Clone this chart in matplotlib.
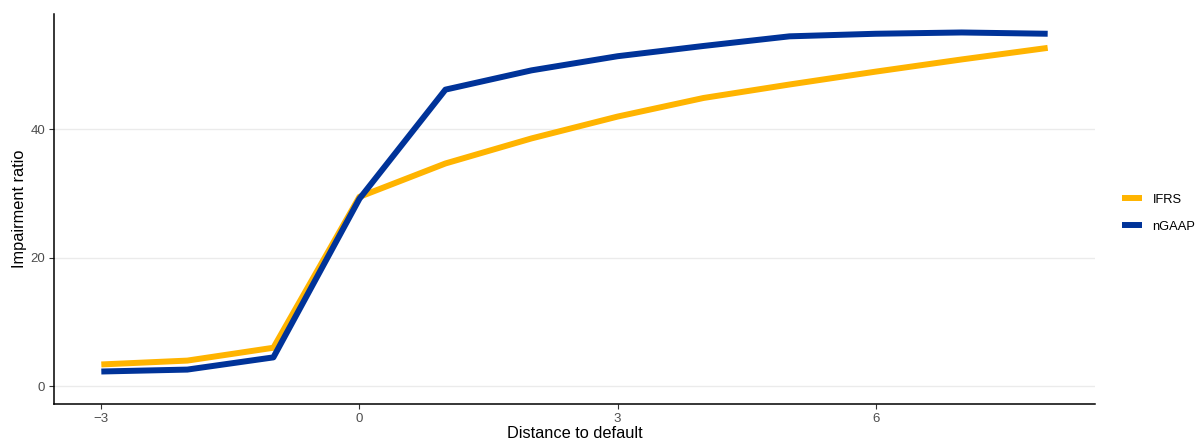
import matplotlib
matplotlib.use("Agg")
import matplotlib.pyplot as plt

plt.rcParams['font.family'] = ['Liberation Sans', 'DejaVu Sans']

distance = [-3, -2, -1, 0, 1, 2, 3, 4, 5, 6, 7, 8]
ifrs = [3.4, 4.0, 6.0, 29.5, 34.7, 38.6, 42.0, 44.9, 47.0, 49.0, 50.9, 52.7]
ngaap = [2.3, 2.6, 4.5, 29.2, 46.2, 49.2, 51.4, 53.0, 54.5, 54.9, 55.1, 54.9]
series_names = ['IFRS', 'nGAAP']
colors = ['#FFB400', '#003399']
xticks = [-3, 0, 3, 6]
yticks = [0, 20, 40]

fig = plt.figure(figsize=(12, 4.41), dpi=100)
ax = fig.add_axes([0.045, 0.0839, 0.8675, 0.8841])

for name, vals, c in zip(series_names, [ifrs, ngaap], colors):
    ax.plot(distance, vals, color=c, lw=4.3, label=name, solid_capstyle='butt', solid_joinstyle='round')

ax.set_xlim(-3.55, 8.55)
ax.set_ylim(-2.76, 57.96)
ax.set_xticks(xticks)
ax.set_xticklabels([str(t).replace('-', '\u2212') for t in xticks])
ax.set_yticks(yticks)
ax.grid(axis='y', color='#EBEBEB', lw=1.0)
ax.set_axisbelow(True)
for s in ['top', 'right']:
    ax.spines[s].set_visible(False)
for s in ['left', 'bottom']:
    ax.spines[s].set_color('black')
    ax.spines[s].set_linewidth(1.1)
ax.tick_params(axis='both', colors='#333333', labelcolor='#4D4D4D', labelsize=9.5, length=3.5, width=0.8, pad=3)
ax.set_xlabel('Distance to default', fontsize=11.8, labelpad=1)
ax.set_ylabel('Impairment ratio', fontsize=11.8, labelpad=2)

leg = fig.legend(loc='center left', bbox_to_anchor=(0.925, 0.516), frameon=False,
                 fontsize=9.3, handlelength=1.6, handletextpad=0.8, labelspacing=1.15)
for h in leg.get_lines():
    h.set_linewidth(4.3)

fig.savefig('out.png', dpi=100)
